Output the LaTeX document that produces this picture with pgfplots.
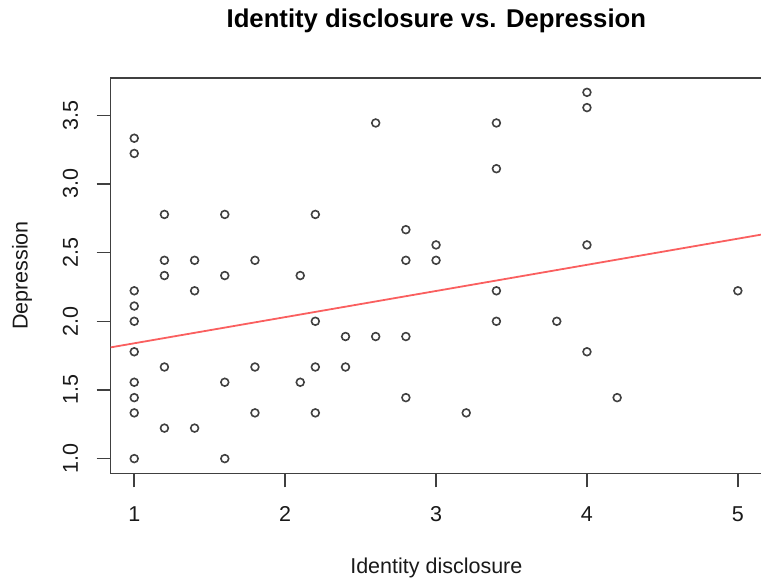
\documentclass[border=0pt]{standalone}
\usepackage{fontspec}
\setmainfont{Liberation Sans}
\usepackage{pgfplots}
\usepackage{pgfplotstable}
\pgfplotsset{compat=1.18}
\usetikzlibrary{calc}

% Identity disclosure (x) against depression score (y)
\pgfplotstableread{
x    y
1.0  3.333
1.0  3.222
1.0  2.222
1.0  2.111
1.0  2.000
1.0  1.778
1.0  1.556
1.0  1.444
1.0  1.333
1.0  1.000
1.2  2.778
1.2  2.444
1.2  2.333
1.2  1.667
1.2  1.222
1.4  2.444
1.4  2.222
1.4  1.222
1.6  2.778
1.6  2.333
1.6  1.556
1.6  1.000
1.8  2.444
1.8  1.667
1.8  1.333
2.1  2.333
2.1  1.556
2.2  2.778
2.2  2.000
2.2  1.667
2.2  1.333
2.4  1.889
2.4  1.667
2.6  3.444
2.6  1.889
2.8  2.667
2.8  2.444
2.8  1.889
2.8  1.444
3.0  2.556
3.0  2.444
3.2  1.333
3.4  3.444
3.4  3.111
3.4  2.222
3.4  2.000
3.8  2.000
4.0  3.667
4.0  3.556
4.0  2.556
4.0  1.778
4.2  1.444
5.0  2.222
}\depdata

% Least-squares line, end points at the plot region edges
\pgfplotstableread{
x     y
0.844 1.810
5.160 2.632
}\fitline

\begin{document}
\begin{tikzpicture}
\begin{axis}[
  scale only axis,
  width=651.3bp, height=395.5bp,
  xmin=0.844, xmax=5.16, ymin=0.893, ymax=3.773,
  xtick={1,2,3,4,5}, xticklabels={1,2,3,4,5},
  ytick={1,1.5,2,2.5,3,3.5}, yticklabels={1.0,1.5,2.0,2.5,3.0,3.5},
  tick pos=left, tick align=outside,
  major tick length=14bp,
  every tick/.style={line width=1.5bp, black!75},
  axis line style={line width=1.6bp, black!75},
  font=\fontsize{21.5bp}{25bp}\selectfont,
  xticklabel style={anchor=base, text=black!90},
  xticklabel shift=34.4bp,
  yticklabel style={rotate=90, anchor=base, text=black!90},
  yticklabel shift=18.7bp,
  xlabel={Identity disclosure},
  ylabel={Depression},
  xlabel style={at={(axis description cs:0.5,-0.2546)}, anchor=base, text=black!90},
  ylabel style={at={(axis description cs:-0.1274,0.5)}, anchor=base, text=black!90},
  title={Identity disclosure vs. Depression},
  title style={at={(axis description cs:0.5,1.1113)}, anchor=base,
    font=\fontsize{25.7bp}{30bp}\selectfont\bfseries},
]
\addplot[line width=1.8bp, color={rgb,255:red,250;green,95;blue,95}] table {\fitline};
\addplot[only marks, mark=o, mark size=3.9bp,
  mark options={line width=1.6bp, draw=black!75}] table {\depdata};
\end{axis}
\pgfresetboundingbox
\useasboundingbox ($(current axis.south west)+(-110.7bp,-107.7bp)$)
  rectangle ($(current axis.north west)+(650.3bp,77.8bp)$);
\end{tikzpicture}
\end{document}
